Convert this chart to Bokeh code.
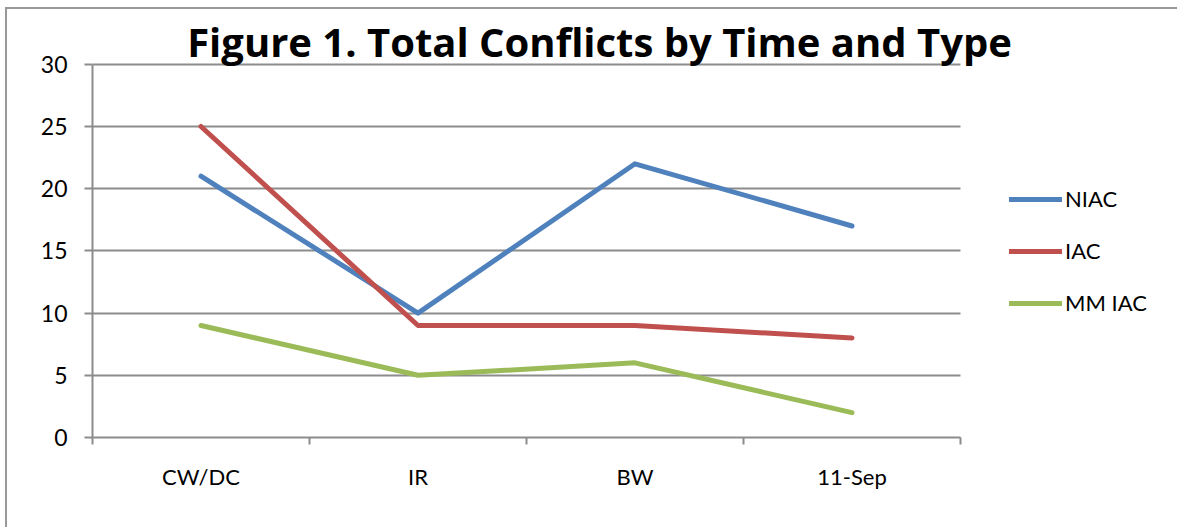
from bokeh.plotting import figure
from bokeh.models import (Legend, LegendItem, FixedTicker, Range1d, Label,
                          ColumnDataSource)
from bokeh.embed import file_html
from bokeh.resources import INLINE

categories = ["CW/DC", "IR", "BW", "11-Sep"]
niac = [21, 10, 22, 17]
iac = [25, 9, 9, 8]
mm_iac = [9, 5, 6, 2]
y_ticks = [0, 5, 10, 15, 20, 25, 30]
title_text = "Figure 1. Total Conflicts by Time and Type"

FONT = "Lato"
GRID = "#8c8c8c"

n = len(categories)
xs = [i + 0.5 for i in range(n)]

# ranges extend past the data so the title and legend can sit over the plot area
p = figure(frame_width=1085, frame_height=423,
           min_border_left=85, min_border_top=5, min_border_bottom=90,
           min_border_right=0,
           x_range=Range1d(0, n + 1), y_range=Range1d(0, 34),
           output_backend="svg", toolbar_location=None,
           styles={"border-left": "2px solid #999999",
                   "border-top": "2px solid #999999",
                   "margin-left": "5px", "margin-top": "7px"})
p.outline_line_color = None
p.background_fill_color = "white"
p.border_fill_color = "white"

# y axis
p.yaxis.ticker = FixedTicker(ticks=y_ticks)
p.yaxis.bounds = (0, 30)
p.yaxis.axis_line_color = GRID
p.yaxis.axis_line_width = 2
p.yaxis.major_tick_line_color = GRID
p.yaxis.major_tick_line_width = 2
p.yaxis.major_tick_in = 0
p.yaxis.major_tick_out = 8
p.yaxis.minor_tick_line_color = None
p.yaxis.major_label_text_font = FONT
p.yaxis.major_label_text_font_size = "23px"
p.yaxis.major_label_text_color = "#000000"
p.yaxis.major_label_standoff = 17

# x axis: labels at centers, ticks at boundaries
p.xaxis.ticker = FixedTicker(ticks=xs, minor_ticks=list(range(n + 1)))
p.xaxis.bounds = (0, n)
p.xaxis.major_label_overrides = {x: c for x, c in zip(xs, categories)}
p.xaxis.axis_line_color = GRID
p.xaxis.axis_line_width = 2
p.xaxis.major_tick_line_color = None
p.xaxis.minor_tick_line_color = GRID
p.xaxis.minor_tick_line_width = 2
p.xaxis.minor_tick_in = 0
p.xaxis.minor_tick_out = 7
p.xaxis.major_label_text_font = FONT
p.xaxis.major_label_text_font_size = "22px"
p.xaxis.major_label_text_color = "#000000"
p.xaxis.major_label_standoff = 18

p.xgrid.grid_line_color = None
p.ygrid.ticker = FixedTicker(ticks=y_ticks)
p.ygrid.cross_bounds = (0, n)
p.ygrid.grid_line_color = GRID
p.ygrid.grid_line_width = 2

series = [("NIAC", niac, "#4F81BD"), ("IAC", iac, "#C0504D"), ("MM IAC", mm_iac, "#9BBB59")]
items = []
for name, vals, col in series:
    src = ColumnDataSource(dict(x=xs, y=vals))
    r = p.line("x", "y", source=src, line_color=col, line_width=5,
               line_cap="round", line_join="round")
    items.append(LegendItem(label=name, renderers=[r]))

legend = Legend(items=items, location=(917, 121), orientation="vertical")
legend.margin = 0
legend.padding = 10
legend.border_line_color = None
legend.background_fill_alpha = 0
legend.glyph_width = 53
legend.glyph_height = 20
legend.label_height = 20
legend.label_standoff = 3
legend.spacing = 25
legend.label_text_font = FONT
legend.label_text_font_size = "22px"
legend.label_text_color = "#000000"
p.add_layout(legend)

title = Label(x=507, y=396, x_units="screen", y_units="screen",
              text=title_text, text_font="Open Sans", text_font_style="bold",
              text_font_size="40px", text_align="center", text_baseline="alphabetic",
              text_color="#000000")
p.add_layout(title)

open("out.html", "w").write(file_html(p, INLINE))
